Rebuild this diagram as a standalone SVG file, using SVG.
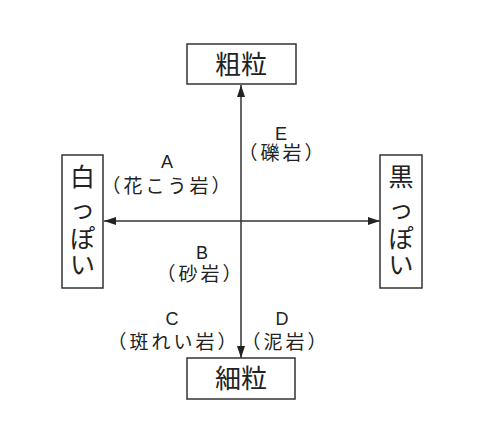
<svg xmlns="http://www.w3.org/2000/svg" width="484" height="436" viewBox="0 0 484 436">
<style>
.box{fill:#fff;stroke:#333;stroke-width:1.5}
.ax{stroke:#333;stroke-width:1.5;fill:none}
.big{font-family:"Noto Sans CJK JP","Noto Sans CJK SC",sans-serif;font-size:26px;fill:#222;text-anchor:middle}
.vt{font-family:"Noto Sans CJK JP","Noto Sans CJK SC",sans-serif;font-size:25px;fill:#222;text-anchor:middle}
.lbl{font-family:"Noto Sans CJK JP",sans-serif;font-size:19px;fill:#222;text-anchor:middle;letter-spacing:3px}
.lt{font-family:"Liberation Sans","Noto Sans CJK JP",sans-serif;font-size:18px;letter-spacing:0}
</style>
<defs>
<marker id="ah" viewBox="0 0 12 8" refX="12" refY="4" markerWidth="12" markerHeight="8" markerUnits="userSpaceOnUse" orient="auto">
<path d="M0,0 L12,4 L0,8 Z" fill="#222"/>
</marker>
</defs>
<rect width="484" height="436" fill="#fff"/>
<g id="connectors">
<line class="ax" x1="241" y1="221" x2="241" y2="85" marker-end="url(#ah)"/>
<line class="ax" x1="241" y1="221" x2="241" y2="358" marker-end="url(#ah)"/>
<line class="ax" x1="241" y1="221" x2="104" y2="221" marker-end="url(#ah)"/>
<line class="ax" x1="241" y1="221" x2="380" y2="221" marker-end="url(#ah)"/>
</g>
<g id="coarse">
<rect class="box" x="187" y="44" width="109" height="40"/>
<text class="big" x="241" y="74">粗粒</text>
</g>
<g id="fine">
<rect class="box" x="187" y="358" width="108" height="41"/>
<text class="big" x="241" y="388">細粒</text>
</g>
<g id="white">
<rect class="box" x="62" y="155" width="41" height="133"/>
<text class="vt"><tspan x="82.5" y="186">白</tspan><tspan x="82.5" y="218">っ</tspan><tspan x="82.5" y="248">ぽ</tspan><tspan x="82.5" y="274">い</tspan></text>
</g>
<g id="black">
<rect class="box" x="380" y="155" width="42" height="133"/>
<text class="vt"><tspan x="401" y="186">黒</tspan><tspan x="401" y="218">っ</tspan><tspan x="401" y="248">ぽ</tspan><tspan x="401" y="274">い</tspan></text>
</g>
<g id="A">
<text class="lbl"><tspan class="lt" x="167" y="168">A</tspan><tspan x="167.5" y="193">（花こう岩）</tspan></text>
</g>
<g id="B">
<text class="lbl"><tspan class="lt" x="202" y="259">B</tspan><tspan x="200.5" y="281">（砂岩）</tspan></text>
</g>
<g id="C">
<text class="lbl"><tspan class="lt" x="172" y="325">C</tspan><tspan x="173.5" y="349">（斑れい岩）</tspan></text>
</g>
<g id="D">
<text class="lbl"><tspan class="lt" x="282" y="325">D</tspan><tspan x="285.5" y="349">（泥岩）</tspan></text>
</g>
<g id="E">
<text class="lbl"><tspan class="lt" x="281" y="140">E</tspan><tspan x="282.5" y="160">（礫岩）</tspan></text>
</g>
</svg>
